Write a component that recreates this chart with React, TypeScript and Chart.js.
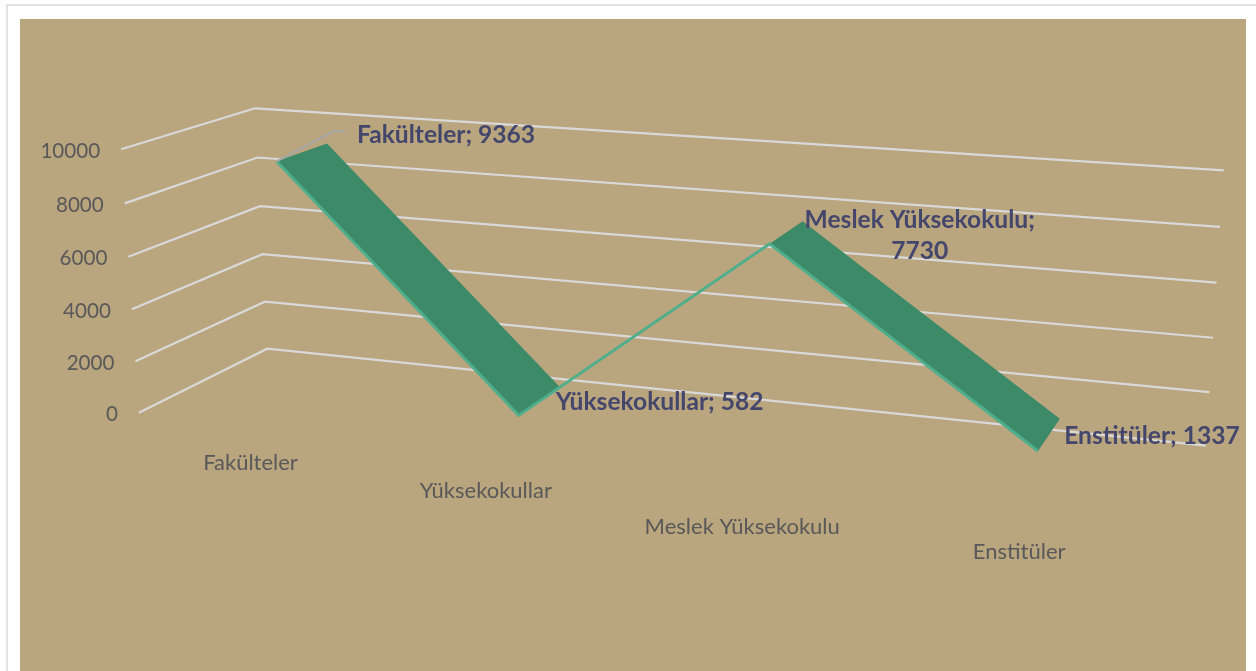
import React, { useEffect, useRef } from "react";
import { Chart, registerables } from "chart.js";

Chart.register(...registerables);

const categories = ["Fakülteler", "Yüksekokullar", "Meslek Yüksekokulu", "Enstitüler"];
const seriesValues = [9363, 582, 7730, 1337];
const axisMin = 0;
const axisMax = 10000;
const axisStep = 2000;

// Label layout relative to the projected point of each category
const dataLabelLines = [["Fakülteler; 9363"], ["Yüksekokullar; 582"], ["Meslek Yüksekokulu;", "7730"], ["Enstitüler; 1337"]];
const dataLabelOffsets = [[169.5, -26.5], [141, -13], [150, -24], [114, -15]];
const categoryLabelOffsets = [[0, 37], [-1, 38], [0, 44], [0, 37]];

// Frame of the 3D box on screen (wall corners)
const backLeftFloor = [267.3, 348.7];
const backRightFloor = [1206, 445.7];
const backRightTop = [1223.7, 170.3];
const backLeftTop = [255, 108.3];
const frontLeftFloor = [138.3, 412.7];
const frontLeftTop = [121.7, 149.3];
const ribbonDepthBack = 0.3;
const ribbonDepthFront = 0.705;

const FONT = "Lato, 'Open Sans', sans-serif";
const TAN = "#B9A57E";
const GRID = "#D9D9D9";
const RIBBON = "#3C8A68";
const EDGE = "#4FAE8B";
const TICK_TEXT = "#595959";
const LABEL_TEXT = "#44466C";
const LEADER = "#A6A6A6";

function makeProjection() {
  const [x0, y0] = backLeftFloor;
  const [x1, y1] = backRightFloor;
  const [x2, y2] = backRightTop;
  const [x3, y3] = backLeftTop;
  const dx1 = x1 - x2, dx2 = x3 - x2, sx = x0 - x1 + x2 - x3;
  const dy1 = y1 - y2, dy2 = y3 - y2, sy = y0 - y1 + y2 - y3;
  const den = dx1 * dy2 - dx2 * dy1;
  const g = (sx * dy2 - dx2 * sy) / den;
  const h = (dx1 * sy - sx * dy1) / den;
  const a = x1 - x0 + g * x1, b = x3 - x0 + h * x3, c = x0;
  const d = y1 - y0 + g * y1, e = y3 - y0 + h * y3, f = y0;
  const [fx1, fy1] = frontLeftFloor;
  const [fx2, fy2] = frontLeftTop;
  const cz = (fy1 - fy2 * (1 + h) + e - 0) / (fy2 - fy1);
  const cy = fy1 * (1 + cz) - f;
  const cx = (fx1 * (1 + cz) - c + fx2 * (1 + h + cz) - c - b) / 2;
  return (u: number, v: number, w: number): [number, number] => {
    const q = g * u + h * v + 1 + cz * w;
    return [(a * u + b * v + c + cx * w) / q, (d * u + e * v + f + cy * w) / q];
  };
}

const project = makeProjection();

function norm(chart: any, index: number, value: number) {
  const { left, right, top, bottom } = chart.chartArea;
  const u = (chart.scales.x.getPixelForValue(index) - left) / (right - left);
  const v = (bottom - chart.scales.y.getPixelForValue(value)) / (bottom - top);
  return [u, v];
}

const box3d = {
  id: "box3d",
  beforeDraw(chart: any) {
    const { ctx, width, height } = chart;
    ctx.save();
    ctx.fillStyle = "#FFFFFF";
    ctx.fillRect(0, 0, width, height);
    ctx.strokeStyle = "#D9D9D9";
    ctx.lineWidth = 1.5;
    ctx.beginPath();
    ctx.moveTo(7, height);
    ctx.lineTo(7, 5);
    ctx.lineTo(width, 5);
    ctx.stroke();
    ctx.fillStyle = TAN;
    ctx.fillRect(20, 19, 1226, height - 19);
    ctx.restore();
  },
  afterDatasetsUpdate(chart: any) {
    const meta = chart.getDatasetMeta(0);
    meta.data.forEach((pt: any, i: number) => {
      const [u, v] = norm(chart, i, seriesValues[i]);
      const [x, y] = project(u, v, ribbonDepthFront);
      pt.x = x;
      pt.y = y;
    });
  },
  beforeDatasetsDraw(chart: any) {
    const { ctx, scales } = chart;
    ctx.save();
    // gridlines on the walls
    ctx.strokeStyle = GRID;
    ctx.lineWidth = 2.2;
    scales.y.ticks.forEach((t: any) => {
      const [, v] = norm(chart, 0, t.value);
      const a = project(0, v, 1), b = project(0, v, 0), c = project(1, v, 0);
      ctx.beginPath();
      ctx.moveTo(a[0], a[1]);
      ctx.lineTo(b[0], b[1]);
      ctx.lineTo(c[0], c[1]);
      ctx.stroke();
    });
    // value-axis labels
    ctx.font = `20.6px ${FONT}`;
    ctx.fillStyle = TICK_TEXT;
    ctx.textAlign = "right";
    ctx.textBaseline = "middle";
    scales.y.ticks.forEach((t: any) => {
      const [, v] = norm(chart, 0, t.value);
      const a = project(0, v, 1);
      ctx.fillText(String(t.value), a[0] - 21, a[1] + 2);
    });
    // category labels
    ctx.font = `22px ${FONT}`;
    ctx.textAlign = "center";
    categories.forEach((label, i) => {
      const [u] = norm(chart, i, axisMin);
      const a = project(u, 0, 1);
      ctx.fillText(label, a[0] + categoryLabelOffsets[i][0], a[1] + categoryLabelOffsets[i][1]);
    });
    // ribbon faces
    ctx.fillStyle = RIBBON;
    for (let i = 0; i < seriesValues.length - 1; i++) {
      const [u1, v1] = norm(chart, i, seriesValues[i]);
      const [u2, v2] = norm(chart, i + 1, seriesValues[i + 1]);
      const p = [
        project(u1, v1, ribbonDepthFront),
        project(u1, v1, ribbonDepthBack),
        project(u2, v2, ribbonDepthBack),
        project(u2, v2, ribbonDepthFront),
      ];
      ctx.beginPath();
      p.forEach((q, k) => (k ? ctx.lineTo(q[0], q[1]) : ctx.moveTo(q[0], q[1])));
      ctx.closePath();
      ctx.fill();
    }
    ctx.restore();
  },
  afterDatasetsDraw(chart: any) {
    const { ctx } = chart;
    const meta = chart.getDatasetMeta(0);
    ctx.save();
    // leader line of the first label
    const first = meta.data[0];
    ctx.strokeStyle = LEADER;
    ctx.lineWidth = 2;
    ctx.beginPath();
    ctx.moveTo(first.x, first.y);
    ctx.lineTo(first.x + 57, first.y - 30);
    ctx.lineTo(first.x + 69, first.y - 30);
    ctx.stroke();
    // data labels
    ctx.font = `bold 24.6px ${FONT}`;
    ctx.fillStyle = LABEL_TEXT;
    ctx.textAlign = "center";
    ctx.textBaseline = "middle";
    dataLabelLines.forEach((lines, i) => {
      const pt = meta.data[i];
      lines.forEach((line, k) => {
        ctx.fillText(line, pt.x + dataLabelOffsets[i][0], pt.y + dataLabelOffsets[i][1] + k * 31);
      });
    });
    ctx.restore();
  },
};

export default function App() {
  const ref = useRef<HTMLCanvasElement | null>(null);
  useEffect(() => {
    document.body.style.margin = "0";
    const chart = new Chart(ref.current as HTMLCanvasElement, {
      type: "line",
      data: {
        labels: categories,
        datasets: [
          {
            label: "Series",
            data: seriesValues,
            borderColor: EDGE,
            borderWidth: 3,
            pointRadius: 0,
            tension: 0,
            fill: false,
            clip: false,
          } as any,
        ],
      },
      options: {
        responsive: false,
        animation: false,
        layout: { padding: { left: 120, right: 40, top: 100, bottom: 100 } },
        plugins: { legend: { display: false }, title: { display: false }, tooltip: { enabled: false } },
        scales: {
          x: { type: "category", display: false, offset: true },
          y: { type: "linear", display: false, min: axisMin, max: axisMax, ticks: { stepSize: axisStep } },
        },
      },
      plugins: [box3d],
    });
    return () => chart.destroy();
  }, []);
  return <canvas ref={ref} width={1256} height={671} style={{ display: "block", width: 1256, height: 671 }} />;
}
